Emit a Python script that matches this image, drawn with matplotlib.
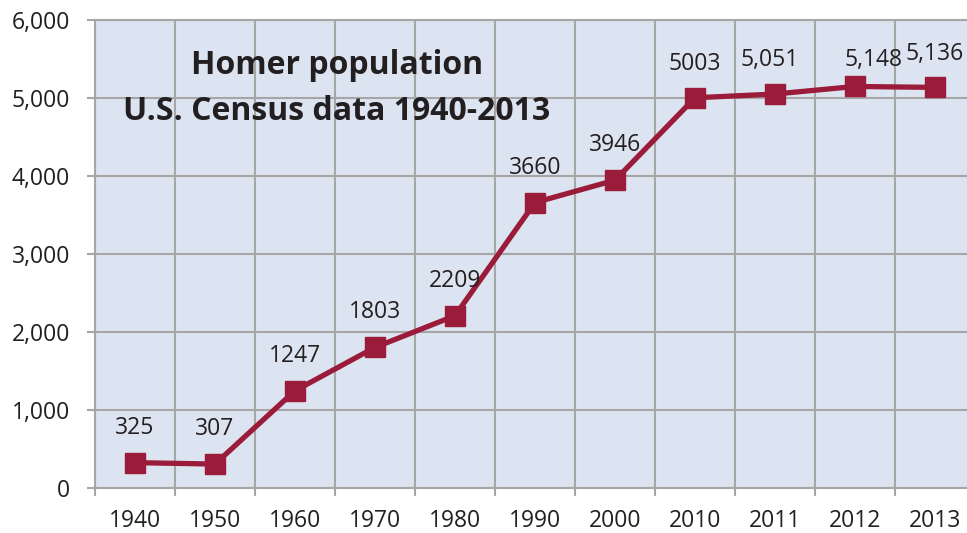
import numpy as np
import matplotlib.pyplot as plt
from matplotlib.ticker import FuncFormatter

plt.rcParams['font.family'] = ['Open Sans', 'DejaVu Sans']

# census data
years = ['1940', '1950', '1960', '1970', '1980', '1990', '2000', '2010', '2011', '2012', '2013']
population = [325, 307, 1247, 1803, 2209, 3660, 3946, 5003, 5051, 5148, 5136]
point_labels = ['325', '307', '1247', '1803', '2209', '3660', '3946', '5003', '5,051', '5,148', '5,136']
# label offsets (pixels) from the marker, as placed in the original chart
label_dx = [0, 0, 0, 0, 0, 0, 0, 0, -5, 18, 0]
label_dy = [29, 29, 29, 29, 29, 29, 29, 28, 28, 20, 27]

line_color = '#9b1b3a'
grid_color = '#a6a6a6'
text_color = '#231f20'

fig = plt.figure(figsize=(9.67, 5.33), dpi=100)
ax = fig.add_axes([95/967, 45/533, 880/967, 468/533])
ax.set_facecolor('#dde4f1')

x = np.arange(len(years))
ax.plot(x, population, color=line_color, linewidth=3.8, marker='s', markersize=14,
        zorder=3, clip_on=False)

for i in range(len(x)):
    ax.annotate(point_labels[i], (x[i], population[i]),
                xytext=(label_dx[i], label_dy[i]), textcoords='offset pixels',
                ha='center', va='baseline', fontsize=16.5, color=text_color)

ax.set_xlim(-0.5, len(years) - 0.5)
ax.set_ylim(0, 6000)

ax.set_yticks(range(0, 7000, 1000))
ax.yaxis.set_major_formatter(FuncFormatter(lambda v, p: '{:,.0f}'.format(v)))
ax.set_xticks(x)
ax.set_xticklabels(years)
ax.set_xticks(np.arange(-0.5, len(years), 1.0), minor=True)

ax.grid(True, axis='y', which='major', color=grid_color, linewidth=1.5)
ax.grid(True, axis='x', which='minor', color=grid_color, linewidth=1.5)
ax.set_axisbelow(True)

ax.tick_params(axis='y', which='major', length=6, width=1.5, color=grid_color,
               labelsize=16.5, labelcolor=text_color, pad=12)
ax.tick_params(axis='x', which='major', length=0, labelsize=16.5,
               labelcolor=text_color, pad=15)
ax.tick_params(axis='x', which='minor', length=6, width=1.5, color=grid_color)

for s in ['left', 'bottom', 'top']:
    ax.spines[s].set_color(grid_color)
    ax.spines[s].set_linewidth(1.5)
ax.spines['right'].set_visible(False)

fig.text(337/967, 1 - 66/533, 'Homer population', fontsize=23, fontweight='bold',
         color=text_color, ha='center', va='center')
fig.text(337/967, 1 - 112/533, 'U.S. Census data 1940-2013', fontsize=23, fontweight='bold',
         color=text_color, ha='center', va='center')

plt.savefig('out.png', dpi=100)
